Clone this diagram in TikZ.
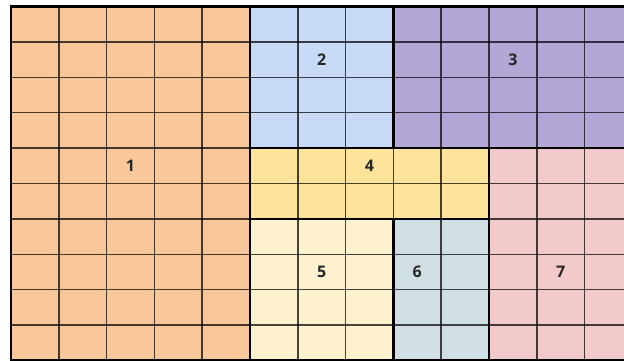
\documentclass[tikz,border=0pt]{standalone}
\usepackage{fontspec}
\setmainfont{Open Sans}
\definecolor{cOrange}{HTML}{F8C89A}
\definecolor{cBlue}{HTML}{C9DAF6}
\definecolor{cPurple}{HTML}{B4A6D6}
\definecolor{cYellow}{HTML}{FDE49A}
\definecolor{cCream}{HTML}{FEF1CE}
\definecolor{cSlate}{HTML}{D0DFE4}
\definecolor{cPink}{HTML}{F3CACC}
\tikzset{
  gridline/.style={draw=black, draw opacity=0.72, line width=1.5pt},
  regionborder/.style={draw=black, line width=2.2pt},
  lbl/.style={font=\bfseries\fontsize{16}{18}\selectfont, text=black!85}
}
\begin{document}
\begin{tikzpicture}[x=1pt,y=1pt]
\useasboundingbox (0,0) rectangle (624,360);
\clip (0,0) rectangle (624,360);
\fill[white] (0,0) rectangle (624,360);
\begin{scope}[shift={(11,353.5)}, x=47.8pt, y=-35.4pt]
  % region fills
  \fill[cOrange] (0,0) rectangle (5,10);
  \fill[cBlue]   (5,0) rectangle (8,4);
  \fill[cPurple] (8,0) rectangle (13,4);
  \fill[cYellow] (5,4) rectangle (10,6);
  \fill[cCream]  (5,6) rectangle (8,10);
  \fill[cSlate]  (8,6) rectangle (10,10);
  \fill[cPink]   (10,4) rectangle (13,10);
  % thin cell grid
  \foreach \i in {1,...,12} \draw[gridline] (\i,0) -- (\i,10);
  \foreach \j in {1,...,9} \draw[gridline] (0,\j) -- (13,\j);
  % region borders
  \draw[regionborder] (0,0) rectangle (5,10);
  \draw[regionborder] (5,0) rectangle (8,4);
  \draw[regionborder] (8,0) rectangle (13,4);
  \draw[regionborder] (5,4) rectangle (10,6);
  \draw[regionborder] (5,6) rectangle (8,10);
  \draw[regionborder] (8,6) rectangle (10,10);
  \draw[regionborder] (10,4) rectangle (13,10);
  % labels
  \node[lbl] (r1) at (2.5,4.5) {1};
  \node[lbl] (r2) at (6.5,1.5) {2};
  \node[lbl] (r3) at (10.5,1.5) {3};
  \node[lbl] (r4) at (7.5,4.5) {4};
  \node[lbl] (r5) at (6.5,7.5) {5};
  \node[lbl] (r6) at (8.5,7.5) {6};
  \node[lbl] (r7) at (11.5,7.5) {7};
\end{scope}
\end{tikzpicture}
\end{document}
